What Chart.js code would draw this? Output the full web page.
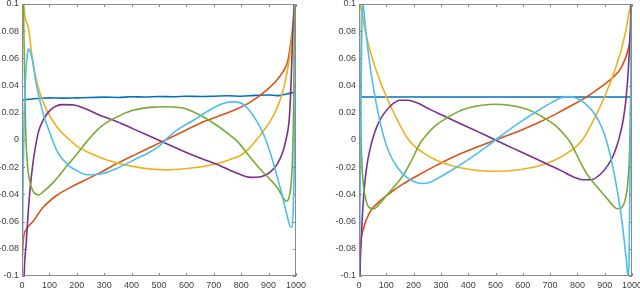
<!DOCTYPE html>
<html>
<head>
<meta charset="utf-8">
<script src="https://cdn.jsdelivr.net/npm/chart.js@4/dist/chart.umd.min.js"></script>
<style>
  body { margin: 0; background: #fff; }
  .panel { position: absolute; top: 0; width: 320px; height: 290px; }
  #left { left: 0; }
  #right { left: 320px; }
</style>
</head>
<body>
<div class="panel" id="left"><canvas id="c1" width="320" height="290"></canvas></div>
<div class="panel" id="right"><canvas id="c2" width="320" height="290"></canvas></div>
<script>
// [index, value] pairs
// left panel (estimated, noisy)
const leftBlue = [[0,0.029],[10,0.0295],[30,0.030],[60,0.0305],[100,0.031],[150,0.0308],[200,0.031],[250,0.0312],[300,0.0315],[350,0.0313],[400,0.0318],[450,0.0316],[500,0.032],[550,0.0318],[600,0.0322],[650,0.032],[700,0.0322],[750,0.0325],[800,0.0322],[850,0.0328],[900,0.0331],[930,0.0326],[950,0.0331],[970,0.034],[990,0.035],[1000,0.0355]];
const leftOrange = [[0,-0.09],[5,-0.073],[15,-0.066],[40,-0.060],[75,-0.050],[125,-0.041],[175,-0.035],[225,-0.030],[285,-0.024],[345,-0.0175],[405,-0.0115],[465,-0.0057],[500,-0.0023],[530,0.0006],[590,0.0065],[650,0.0123],[710,0.017],[775,0.022],[835,0.028],[895,0.037],[930,0.044],[955,0.051],[970,0.058],[982,0.073],[994,0.093],[1000,0.105]];
const leftYellow = [[0,0.15],[6,0.1],[23,0.083],[35,0.064],[48,0.048],[66,0.034],[90,0.022],[127,0.0098],[150,0.0045],[175,0],[200,-0.0045],[249,-0.0098],[310,-0.0147],[408,-0.0196],[530,-0.022],[603,-0.021],[676,-0.019],[750,-0.015],[800,-0.011],[830,-0.006],[855,0],[880,0.0065],[905,0.0135],[925,0.021],[945,0.031],[963,0.045],[976,0.06],[988,0.082],[994,0.098],[1000,0.11]];
const leftPurple = [[0,-0.2],[8,-0.1],[15,-0.077],[22,-0.055],[30,-0.035],[40,-0.017],[50,-0.004],[60,0.006],[78,0.015],[103,0.022],[125,0.025],[150,0.026],[190,0.0257],[225,0.0235],[286,0.018],[347,0.0135],[408,0.008],[469,0.0025],[530,-0.003],[591,-0.0085],[652,-0.0135],[713,-0.018],[774,-0.0235],[835,-0.0275],[872,-0.027],[908,-0.0233],[933,-0.0172],[952,-0.0086],[963,0],[976,0.017],[982,0.042],[988,0.078],[994,0.103],[1000,0.14]];
const leftGreen = [[0,0.13],[5,0.10],[9,0.054],[13,0.01],[20,-0.018],[29,-0.031],[41,-0.038],[60,-0.0404],[78,-0.038],[115,-0.031],[164,-0.019],[200,-0.0105],[237,-0.001],[286,0.0095],[347,0.017],[408,0.022],[469,0.024],[530,0.0245],[591,0.0233],[652,0.018],[713,0.0105],[750,0.005],[786,-0.001],[830,-0.012],[872,-0.022],[910,-0.030],[935,-0.036],[955,-0.043],[965,-0.045],[975,-0.042],[982,-0.033],[987,-0.015],[991,0.02],[995,0.1],[1000,0.15]];
const leftCyan = [[0,-0.12],[4,-0.03],[8,0.02],[14,0.05],[19,0.062],[24,0.067],[30,0.065],[37,0.06],[45,0.05],[54,0.039],[78,0.019],[100,0.006],[115,-0.002],[130,-0.009],[150,-0.0145],[175,-0.0195],[200,-0.0225],[237,-0.0255],[286,-0.025],[347,-0.0208],[408,-0.0147],[469,-0.0086],[505,-0.0037],[518,-0.001],[567,0.0074],[628,0.0147],[676,0.021],[737,0.027],[774,0.028],[811,0.0257],[847,0.017],[870,0.009],[890,0],[910,-0.012],[930,-0.026],[950,-0.041],[968,-0.056],[980,-0.064],[985,-0.064],[990,-0.05],[995,0],[1000,0.12]];

// right panel (exact)
const rightBlue = [[0,0.0316],[500,0.0316],[1000,0.0316]];
const rightOrange = [[0,-0.12],[2,-0.09],[5,-0.078],[15,-0.066],[40,-0.053],[70,-0.046],[100,-0.041],[160,-0.0325],[220,-0.0255],[280,-0.019],[340,-0.013],[400,-0.0078],[450,-0.0038],[500,0],[550,0.0038],[600,0.0078],[660,0.013],[720,0.019],[780,0.0255],[840,0.0325],[900,0.041],[930,0.046],[960,0.053],[985,0.066],[995,0.078],[998,0.09],[1000,0.12]];
const rightYellow = [[0,0.15],[4,0.103],[10,0.095],[20,0.083],[40,0.066],[65,0.050],[100,0.032],[140,0.015],[175,0.002],[200,-0.004],[240,-0.010],[280,-0.0145],[340,-0.019],[420,-0.022],[500,-0.023],[580,-0.022],[660,-0.019],[720,-0.0145],[760,-0.010],[800,-0.004],[825,0.002],[860,0.015],[900,0.032],[935,0.050],[960,0.066],[980,0.083],[990,0.095],[996,0.103],[1000,0.15]];
const rightPurple = [[0,-0.2],[4,-0.1],[8,-0.075],[14,-0.05],[22,-0.03],[32,-0.015],[45,-0.003],[55,0.004],[70,0.012],[90,0.019],[115,0.025],[150,0.0292],[180,0.0292],[210,0.0275],[260,0.0225],[310,0.0178],[360,0.0131],[420,0.0075],[460,0.0038],[500,0],[540,-0.0038],[580,-0.0075],[640,-0.0131],[690,-0.0178],[740,-0.0225],[790,-0.0275],[820,-0.0292],[850,-0.0292],[885,-0.025],[910,-0.019],[930,-0.012],[945,-0.004],[955,0.003],[968,0.015],[978,0.03],[986,0.05],[992,0.075],[996,0.1],[1000,0.2]];
const rightGreen = [[0,0.15],[3,0.06],[6,0.015],[10,-0.015],[16,-0.033],[25,-0.044],[40,-0.05],[55,-0.0505],[75,-0.047],[100,-0.041],[130,-0.034],[160,-0.0265],[190,-0.016],[225,-0.002],[240,0.002],[280,0.0105],[320,0.016],[360,0.0205],[400,0.0235],[450,0.0255],[500,0.0263],[550,0.0255],[600,0.0235],[640,0.0205],[680,0.016],[720,0.0105],[760,0.002],[775,-0.002],[810,-0.016],[840,-0.0265],[870,-0.034],[900,-0.041],[925,-0.047],[945,-0.0505],[960,-0.05],[975,-0.044],[984,-0.033],[990,-0.015],[994,0.015],[997,0.06],[1000,0.15]];
const rightCyan = [[0,-0.12],[4,-0.04],[8,0.04],[11,0.09],[15,0.1],[20,0.09],[29,0.073],[40,0.055],[55,0.036],[70,0.02],[90,0.003],[110,-0.009],[140,-0.02],[175,-0.0275],[200,-0.0305],[230,-0.032],[260,-0.031],[290,-0.028],[345,-0.0215],[407,-0.0135],[460,-0.006],[500,0],[540,0.006],[593,0.0135],[655,0.0215],[710,0.028],[740,0.031],[770,0.032],[800,0.0305],[825,0.0275],[860,0.02],[890,0.009],[910,-0.003],[930,-0.02],[945,-0.036],[960,-0.055],[971,-0.073],[980,-0.09],[985,-0.1],[989,-0.09],[992,-0.04],[996,0.04],[1000,0.12]];

const xTicks = [0, 100, 200, 300, 400, 500, 600, 700, 800, 900, 1000];
const yTicks = [-0.1, -0.08, -0.06, -0.04, -0.02, 0, 0.02, 0.04, 0.06, 0.08, 0.1];

const colors = ['#0072BD', '#D95319', '#EDB120', '#7E2F8E', '#77AC30', '#4DBEEE'];

const fontSpec = { family: 'Liberation Sans, Arial, sans-serif', size: 9 };

// box with inward ticks on all four sides, MATLAB style
const boxPlugin = {
    id: 'box',
    afterDraw(chart) {
        const ctx = chart.ctx;
        const a = chart.chartArea;
        const xs = chart.scales.x, ys = chart.scales.y;
        ctx.save();
        ctx.strokeStyle = '#8a8a8a';
        ctx.lineWidth = 1;
        ctx.strokeRect(a.left + 0.5, a.top + 0.5, a.right - a.left - 1, a.bottom - a.top - 1);
        ctx.beginPath();
        xTicks.forEach(v => {
            const px = Math.round(xs.getPixelForValue(v)) + 0.5;
            ctx.moveTo(px, a.bottom); ctx.lineTo(px, a.bottom - 3);
            ctx.moveTo(px, a.top); ctx.lineTo(px, a.top + 3);
        });
        yTicks.forEach(v => {
            const py = Math.round(ys.getPixelForValue(v)) + 0.5;
            ctx.moveTo(a.left, py); ctx.lineTo(a.left + 3, py);
            ctx.moveTo(a.right, py); ctx.lineTo(a.right - 3, py);
        });
        ctx.stroke();
        ctx.restore();
    }
};

function makeChart(id, series, yWidth, padRight) {
    const ctx = document.getElementById(id).getContext('2d');
    return new Chart(ctx, {
        type: 'line',
        data: {
            datasets: series.map((s, i) => ({
                data: s.map(p => ({ x: p[0], y: p[1] })),
                borderColor: colors[i],
                borderWidth: 1.6,
                pointRadius: 0,
                cubicInterpolationMode: 'monotone',
                fill: false,
                order: series.length - i
            }))
        },
        options: {
            responsive: false,
            animation: false,
            devicePixelRatio: 1,
            layout: { padding: { left: 0, top: 4, right: padRight, bottom: 0 } },
            plugins: { legend: { display: false }, tooltip: { enabled: false } },
            scales: {
                x: {
                    type: 'linear', min: 0, max: 1000,
                    grid: { display: false, drawTicks: false }, border: { display: false },
                    afterBuildTicks: s => { s.ticks = xTicks.map(v => ({ value: v })); },
                    ticks: { font: fontSpec, color: '#404040', padding: 4, maxRotation: 0,
                             callback: v => String(v) },
                    afterFit: s => { s.height = 14; s.paddingLeft = 0; s.paddingRight = 0; }
                },
                y: {
                    type: 'linear', min: -0.1, max: 0.1,
                    grid: { display: false, drawTicks: false }, border: { display: false },
                    afterBuildTicks: s => { s.ticks = yTicks.map(v => ({ value: v })); },
                    ticks: { font: fontSpec, color: '#404040', padding: 3,
                             callback: v => String(+Number(v).toFixed(2)) },
                    afterFit: s => { s.width = yWidth; s.paddingTop = 0; s.paddingBottom = 0; }
                }
            }
        },
        plugins: [boxPlugin]
    });
}

makeChart('c1', [leftBlue, leftOrange, leftYellow, leftPurple, leftGreen, leftCyan], 22, 24);
makeChart('c2', [rightBlue, rightOrange, rightYellow, rightPurple, rightGreen, rightCyan], 39, 8);
</script>
</body>
</html>
